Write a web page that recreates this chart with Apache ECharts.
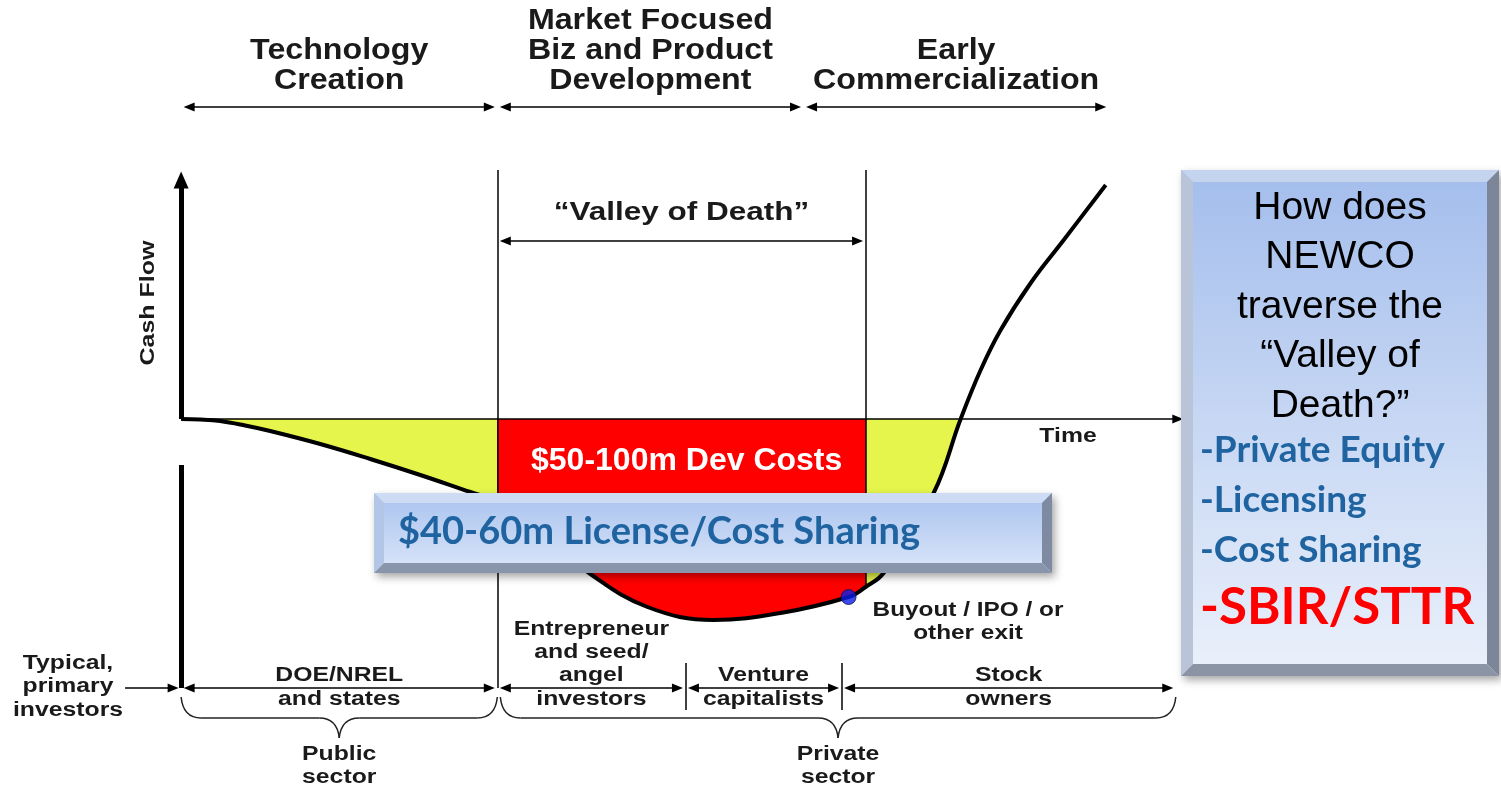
<!DOCTYPE html>
<html>
<head>
<meta charset="utf-8">
<title>Valley of Death</title>
<style>
  html, body { margin: 0; height: 100%; background: #fff; }
  #chart { width: 1501px; height: 788px; }
</style>
</head>
<body>
<div id="chart"></div>
<script src="https://cdn.jsdelivr.net/npm/echarts@6/dist/echarts.min.js"></script>
<script>
// cash flow over time (1 unit = 10px on both axes)
var timeVals = [0, 1.9, 3.9, 6.4, 8.9, 13.9, 18.9, 23.9, 28.9, 31.6, 34.9, 37.9, 40.9, 46.6, 53.2, 59.9, 66.7, 68.4, 70.2, 75.2, 77.9, 79.9, 81.9, 84.9, 88.2, 92.4];
var cashVals = [0, -0.05, -0.2, -0.65, -1.2, -2.5, -4.0, -5.6, -7.3, -8.2, -10.2, -12.8, -15.5, -18.8, -20.1, -19.4, -17.8, -16.8, -15.4, -7.4, 0, 4.9, 8.9, 13.6, 17.9, 23.4];

var valleyEdges = [31.6, 68.4];
var gateBottoms = [-26.9, -16.8];
var breakEven = 77.9;
var exitPoint = [66.7, -17.8];

var phaseEdges = [0, 31.6, 62.2, 92.7];
var phaseNames = ['Technology\nCreation', 'Market Focused\nBiz and Product\nDevelopment', 'Early\nCommercialization'];
var investorEdges = [0, 31.6, 50.4, 66.0, 99.4];
var investorNames = ['DOE/NREL\nand states', 'Entrepreneur\nand seed/\nangel\ninvestors', 'Venture\ncapitalists', 'Stock\nowners'];
var sectorEdges = [[0, 31.6], [31.9, 99.4]];
var sectorNames = ['Public\nsector', 'Private\nsector'];
var questionText = 'How does\nNEWCO\ntraverse the\n\u201cValley of\nDeath?\u201d';
var routes = ['-Private Equity', '-Licensing', '-Cost Sharing'];
var routeHighlight = '-SBIR/STTR';

var YELLOW = '#e6f54b';
var RED = '#ff0000';
var BLUE = '#1f64a0';
var INK = '#1a1a1a';

var chart = echarts.init(document.getElementById('chart'));

var curve = timeVals.map(function (t, i) { return [t, cashVals[i]]; });

function seg(x1, y1, x2, y2, s1, s2, size, width) {
  return [
    { coord: [x1, y1], symbol: s1, symbolSize: size, lineStyle: { width: width, color: '#000', type: 'solid' } },
    { coord: [x2, y2], symbol: s2, symbolSize: size }
  ];
}

var AH = [9, 11];
var lines = [];
// cash flow axis (broken) and time axis
lines.push(seg(0, 0, 0, 23.9, 'none', 'triangle', [15, 17], 5));
lines.push(seg(0, -4.6, 0, -26.9, 'none', 'none', 1, 5));
lines.push(seg(0, 0, 99.6, 0, 'none', 'triangle', AH, 1.5));
// valley gates
valleyEdges.forEach(function (x, i) {
  lines.push(seg(x, 24.9, x, gateBottoms[i], 'none', 'none', 1, 1.5));
});
// valley span
lines.push(seg(valleyEdges[0] + 0.8, 17.8, valleyEdges[1] - 0.8, 17.8, 'triangle', 'triangle', AH, 1.5));
// phase spans
for (var i = 0; i < phaseNames.length; i++) {
  lines.push(seg(phaseEdges[i] + 0.8, 31.2, phaseEdges[i + 1] - 0.8, 31.2, 'triangle', 'triangle', AH, 1.5));
}
// investor spans
for (var j = 0; j < investorNames.length; j++) {
  lines.push(seg(investorEdges[j] + 0.8, -26.9, investorEdges[j + 1] - 0.8, -26.9, 'triangle', 'triangle', AH, 1.5));
}
[investorEdges[2], investorEdges[3]].forEach(function (x) {
  lines.push(seg(x, -24.4, x, -29.1, 'none', 'none', 1, 1.5));
});
lines.push(seg(-5.6, -26.9, -0.8, -26.9, 'none', 'triangle', AH, 1.5));

var option = {
  animation: false,
  grid: { left: 0, right: 0, top: 0, bottom: 0 },
  xAxis: { type: 'value', min: -18.1, max: 131.9, show: false },
  yAxis: { type: 'value', min: -36.9, max: 41.9, show: false },
  visualMap: {
    show: false,
    type: 'piecewise',
    dimension: 0,
    seriesIndex: 0,
    pieces: [
      { lt: valleyEdges[0], color: YELLOW },
      { gte: valleyEdges[0], lt: valleyEdges[1], color: RED },
      { gte: valleyEdges[1], lt: breakEven, color: YELLOW },
      { gte: breakEven, color: 'rgba(255,255,255,0)' }
    ]
  },
  series: [
    {
      type: 'line',
      data: curve,
      smooth: 0.4,
      showSymbol: false,
      silent: true,
      z: 3,
      lineStyle: { color: '#000', width: 4 },
      areaStyle: { opacity: 1 }
    },
    {
      type: 'line',
      data: [],
      z: 4,
      silent: true,
      markLine: {
        silent: true,
        animation: false,
        label: { show: false },
        lineStyle: { type: 'solid', color: '#000' },
        emphasis: { disabled: true },
        data: lines
      }
    },
    {
      type: 'scatter',
      data: [exitPoint],
      z: 5,
      symbolSize: 15,
      silent: true,
      itemStyle: { color: '#0a1ee6', borderColor: '#101050', borderWidth: 1 }
    }
  ]
};
chart.setOption(option);

function px(x, y) { return chart.convertToPixel({ gridIndex: 0 }, [x, y]); }

function txt(x, y, text, opt) {
  return {
    type: 'text', x: x, y: y, z: 20,
    scaleX: opt.scaleX || 1,
    rotation: opt.rotation || 0,
    style: {
      text: text,
      font: opt.font,
      fill: opt.color || INK,
      lineHeight: opt.lineHeight,
      align: opt.align || 'center', textAlign: opt.align || 'center',
      verticalAlign: opt.valign || 'middle', textVerticalAlign: opt.valign || 'middle'
    }
  };
}

function bevelBox(x, y, w, h, b, c) {
  return [
    { type: 'rect', z: 15, shape: { x: x, y: y, width: w, height: h },
      style: { fill: { type: 'linear', x: 0, y: 0, x2: 0, y2: 1, colorStops: [{ offset: 0, color: c.top0 }, { offset: 1, color: c.top1 }] },
        shadowBlur: 8, shadowOffsetX: 3, shadowOffsetY: 4, shadowColor: 'rgba(0,0,0,0.35)' } },
    { type: 'polygon', z: 16, shape: { points: [[x, y], [x + w, y], [x + w - b, y + b], [x + b, y + b]] }, style: { fill: c.bTop } },
    { type: 'polygon', z: 16, shape: { points: [[x, y], [x + b, y + b], [x + b, y + h - b], [x, y + h]] }, style: { fill: c.bLeft } },
    { type: 'polygon', z: 16, shape: { points: [[x + w, y], [x + w, y + h], [x + w - b, y + h - b], [x + w - b, y + b]] }, style: { fill: c.bRight } },
    { type: 'polygon', z: 16, shape: { points: [[x, y + h], [x + b, y + h - b], [x + w - b, y + h - b], [x + w, y + h]] }, style: { fill: c.bBottom } }
  ];
}

function brace(xa, xb, yTop, yBar, yTip) {
  var mid = (xa + xb) / 2, r = 20, st = { stroke: '#222', lineWidth: 1.5, fill: 'none' };
  return [
    { type: 'bezierCurve', z: 20, shape: { x1: xa, y1: yTop, x2: xa + r, y2: yBar, cpx1: xa + 2, cpy1: yBar }, style: st },
    { type: 'line', z: 20, shape: { x1: xa + r, y1: yBar, x2: mid - r, y2: yBar }, style: st },
    { type: 'bezierCurve', z: 20, shape: { x1: mid - r, y1: yBar, x2: mid, y2: yTip, cpx1: mid - 2, cpy1: yBar }, style: st },
    { type: 'bezierCurve', z: 20, shape: { x1: mid, y1: yTip, x2: mid + r, y2: yBar, cpx1: mid + 2, cpy1: yBar }, style: st },
    { type: 'line', z: 20, shape: { x1: mid + r, y1: yBar, x2: xb - r, y2: yBar }, style: st },
    { type: 'bezierCurve', z: 20, shape: { x1: xb - r, y1: yBar, x2: xb, y2: yTop, cpx1: xb - 2, cpy1: yBar }, style: st }
  ];
}

var ARIAL = '"Liberation Sans", Arial, sans-serif';
var LATO = 'Lato, "Noto Sans", sans-serif';
var g = [];

phaseNames.forEach(function (name, i) {
  var cx = px((phaseEdges[i] + phaseEdges[i + 1]) / 2, 0)[0];
  g.push(txt(cx, 96, name, { font: 'bold 29px ' + ARIAL, lineHeight: 30, valign: 'bottom', scaleX: 1.11 }));
});
investorNames.forEach(function (name, i) {
  var cx = px((investorEdges[i] + investorEdges[i + 1]) / 2, 0)[0];
  g.push(txt(cx, 711, name, { font: 'bold 19.5px ' + ARIAL, lineHeight: 23.3, valign: 'bottom', scaleX: 1.27 }));
});
sectorNames.forEach(function (name, i) {
  var a = px(sectorEdges[i][0], 0)[0], b = px(sectorEdges[i][1], 0)[0];
  g = g.concat(brace(a, b, 697, 718, 738));
  g.push(txt((a + b) / 2, 743, name, { font: 'bold 19.5px ' + ARIAL, lineHeight: 23, valign: 'top', scaleX: 1.27 }));
});
g.push(txt(68, 687, 'Typical,\nprimary\ninvestors', { font: 'bold 19.5px ' + ARIAL, lineHeight: 23.5, scaleX: 1.27 }));
g.push(txt(px((valleyEdges[0] + valleyEdges[1]) / 2, 0)[0], 213, '\u201cValley of Death\u201d', { font: 'bold 25px ' + ARIAL, scaleX: 1.26 }));
g.push(txt(148, 303, 'Cash Flow', { font: 'bold 20px ' + ARIAL, scaleX: 1.25, rotation: Math.PI / 2 }));
g.push(txt(1068, 437, 'Time', { font: 'bold 19.5px ' + ARIAL, scaleX: 1.27 }));
g.push(txt(968, 622, 'Buyout / IPO / or\nother exit', { font: 'bold 19.5px ' + ARIAL, lineHeight: 23, scaleX: 1.25 }));
g.push(txt(531, 461, '$50-100m Dev Costs', { font: 'bold 32px ' + ARIAL, color: '#fff', align: 'left' }));

// license / cost sharing box
g = g.concat(bevelBox(374, 493, 678, 80, 10, {
  top0: '#a9c2ee', top1: '#dbe6f9', bTop: '#cddbf4', bLeft: '#b4c6e8', bRight: '#7d8aa2', bBottom: '#8995aa'
}));
g.push(txt(398, 532, '$40-60m License/Cost Sharing', { font: 'bold 38px ' + LATO, color: BLUE, align: 'left' }));

// question box
g = g.concat(bevelBox(1181, 170, 318, 506, 12, {
  top0: '#a3bdec', top1: '#ebf1fb', bTop: '#c4d3ee', bLeft: '#b9c4d8', bRight: '#7c8698', bBottom: '#8a94a4'
}));
g.push(txt(1340, 307, questionText, { font: '39px ' + ARIAL, color: '#000', lineHeight: 49.5 }));
routes.forEach(function (r, i) {
  g.push(txt(1200, 450 + i * 50, r, { font: 'bold 37px ' + LATO, color: BLUE, align: 'left' }));
});
g.push(txt(1200, 608, routeHighlight, { font: 'bold 51px ' + LATO, color: RED, align: 'left' }));

chart.setOption({ graphic: { elements: g } });
</script>
</body>
</html>
